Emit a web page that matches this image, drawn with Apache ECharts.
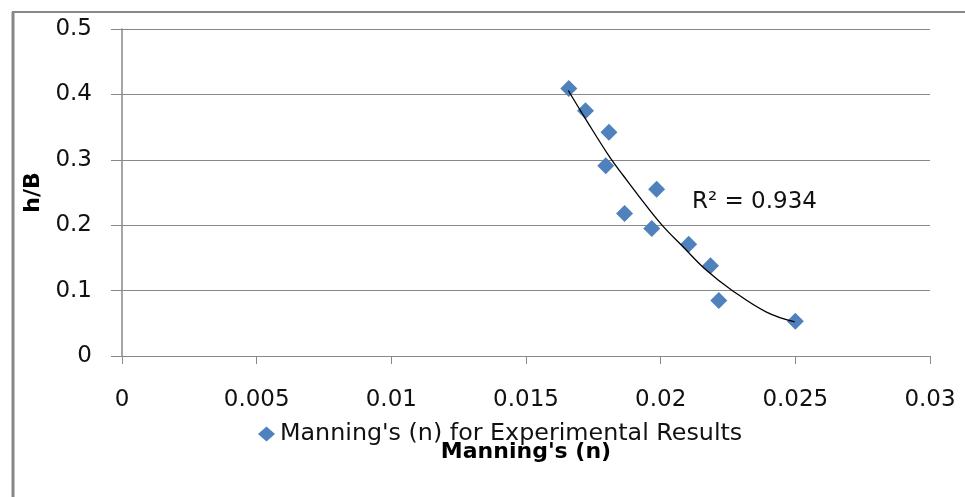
<!DOCTYPE html>
<html>
<head>
<meta charset="utf-8">
<script src="https://cdn.jsdelivr.net/npm/echarts@6/dist/echarts.min.js"></script>
<style>html,body{margin:0;padding:0;background:#fff;}#c{width:965px;height:497px;}</style>
</head>
<body>
<div id="c"></div>
<script>
// Measured data: Manning's n vs h/B
var manningN = [0.01659, 0.01721, 0.01808, 0.01796, 0.01985, 0.01866, 0.01967, 0.02104, 0.02185, 0.02216, 0.02500];
var hOverB   = [0.409,   0.375,   0.342,   0.291,   0.255,   0.218,   0.195,   0.171,   0.138,   0.085,   0.053];
// Trend curve
var trendN = [0.01657, 0.01725, 0.01811, 0.01861, 0.01916, 0.02001, 0.02083, 0.02170, 0.02263, 0.02393, 0.02498];
var trendH = [0.406,   0.360,   0.304,   0.276,   0.246,   0.202,   0.167,   0.131,   0.101,   0.067,   0.052];
var xTicks = [0, 0.005, 0.01, 0.015, 0.02, 0.025, 0.03];
var yTicks = [0, 0.1, 0.2, 0.3, 0.4, 0.5];
var seriesName = "Manning's (n) for Experimental Results";
var xTitle = "Manning's (n)";
var yTitle = "h/B";
var r2Text = "R\u00B2 = 0.934";

var chart = echarts.init(document.getElementById('c'), null, {renderer: 'canvas'});
var pts = manningN.map(function (x, i) { return [x, hOverB[i]]; });
var trend = trendN.map(function (x, i) { return [x, trendH[i]]; });
var tickFont = 'DejaVu Sans';
chart.setOption({
  animation: false,
  backgroundColor: '#ffffff',
  grid: {left: 122, right: 35, top: 29, bottom: 141, containLabel: false},
  xAxis: {
    type: 'value', min: xTicks[0], max: xTicks[xTicks.length - 1], interval: 0.005,
    name: xTitle, nameLocation: 'middle', nameGap: 85,
    nameTextStyle: {fontFamily: tickFont, fontWeight: 'bold', fontSize: 22, color: '#000'},
    axisLine: {show: true, lineStyle: {color: '#888', width: 1}},
    axisTick: {show: true, length: 8, lineStyle: {color: '#888'}},
    axisLabel: {fontFamily: tickFont, fontSize: 23, color: '#111', margin: 33, showMinLabel: true, showMaxLabel: true},
    splitLine: {show: false}
  },
  yAxis: {
    type: 'value', min: yTicks[0], max: yTicks[yTicks.length - 1], interval: 0.1,
    name: yTitle, nameLocation: 'middle', nameGap: 71, nameRotate: 90,
    nameTextStyle: {fontFamily: tickFont, fontWeight: 'bold', fontSize: 22, color: '#000'},
    axisLine: {show: true, lineStyle: {color: '#888', width: 1.5}},
    axisTick: {show: true, length: 11, lineStyle: {color: '#888'}},
    axisLabel: {fontFamily: tickFont, fontSize: 23, color: '#111', margin: 30},
    splitLine: {show: true, lineStyle: {color: '#888', width: 1}}
  },
  legend: {
    data: [{name: seriesName, icon: 'diamond'}],
    left: 253, top: 417, itemWidth: 17, itemHeight: 15, itemGap: 10,
    textStyle: {fontFamily: tickFont, fontSize: 23.8, color: '#111'}
  },
  series: [
    {
      name: seriesName, type: 'scatter', data: pts, symbol: 'diamond', symbolSize: [17, 17],
      itemStyle: {color: '#4F81BD', opacity: 1}, z: 2
    },
    {
      name: 'trend', type: 'line', data: trend, smooth: 0.4, showSymbol: false, silent: true,
      lineStyle: {color: '#000', width: 1.3}, z: 3
    }
  ],
  graphic: [
    {type: 'line', shape: {x1: 13, y1: 12, x2: 13, y2: 497}, style: {stroke: '#888', lineWidth: 3}},
    {type: 'line', shape: {x1: 12, y1: 12, x2: 965, y2: 12}, style: {stroke: '#888', lineWidth: 2}},
    {type: 'text', left: 692, top: 191, style: {text: r2Text, font: '23px "DejaVu Sans"', fill: '#111'}}
  ]
});
</script>
</body>
</html>
